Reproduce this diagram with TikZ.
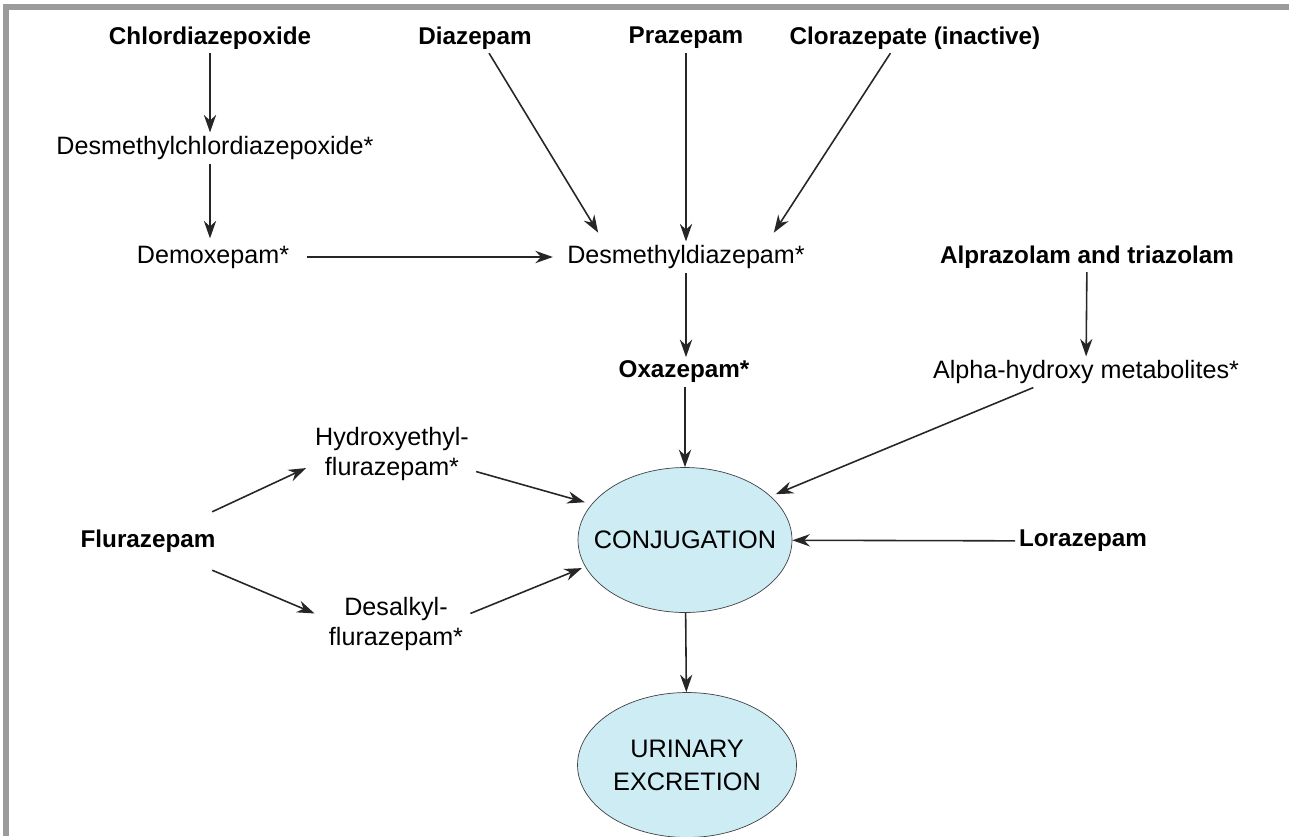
\documentclass[tikz,border=0pt]{standalone}
\usepackage{fontspec}
\setmainfont{Liberation Sans}
\usetikzlibrary{arrows.meta,positioning,shapes.geometric}
\definecolor{conjblue}{RGB}{206,236,244}
\definecolor{framegray}{RGB}{155,155,155}

\begin{document}
\begin{tikzpicture}[
    x=0.02cm, y=-0.02cm,
    drug/.style={
        font=\fontsize{13.8}{16}\selectfont\bfseries,
        align=center,
        inner sep=2pt
    },
    metab/.style={
        font=\fontsize{14.3}{17.5}\selectfont,
        align=center,
        inner sep=2pt
    },
    stage/.style={
        ellipse,
        draw=black!75,
        fill=conjblue,
        minimum width=#1,
        minimum height=2.9cm,
        inner sep=0pt
    },
    inside/.style={
        align=center,
        font=\fontsize{14.4}{18.8}\selectfont
    },
    arrow/.style={
        -{Stealth[length=10pt,width=7pt]},
        line width=0.9pt,
        draw=black!85
    }
]

\useasboundingbox (0,0) rectangle (1289,836);

% Frame
\draw[framegray, line width=3pt] (6,836) -- (6,7) -- (1289,7);

% Parent drugs
\node[drug] (chlor) at (210,38) {Chlordiazepoxide};
\node[drug] (diaz) at (475,38) {Diazepam};
\node[drug] (praz) at (686,38) {Prazepam};
\node[drug] (cloraz) at (915,38) {Clorazepate (inactive)};
\node[drug] (alpra) at (1087,257) {Alprazolam and triazolam};
\node[drug] (flur) at (148,541) {Flurazepam};
\node[drug] (loraz) at (1083,541) {Lorazepam};

% Metabolites
\node[metab] (dmchlor) at (215,148) {Desmethylchlordiazepoxide*};
\node[metab] (demox) at (213,257) {Demoxepam*};
\node[metab] (dmdiaz) at (686,257) {Desmethyldiazepam*};
\node[drug] (oxaz) at (684,372) {Oxazepam*};
\node[metab] (alpha) at (1086,372) {Alpha-hydroxy metabolites*};
\node[metab] (hydroxy) at (392,454) {Hydroxyethyl-\\flurazepam*};
\node[metab] (desalk) at (396,624) {Desalkyl-\\flurazepam*};

% Ellipses
\node[stage=4.28cm, label={[inside]center:CONJUGATION}] (conj) at (685,540) {};
\node[stage=4.38cm, label={[inside]center:URINARY\\EXCRETION}] (urine) at (687,765) {};

% Connectors
\draw[arrow] (chlor) -- (dmchlor.north -| chlor);
\draw[arrow] (dmchlor.south -| chlor) -- ([yshift=2pt]demox.north -| chlor);
\draw[arrow] ([xshift=8pt]demox.east) -- ([xshift=-6pt]dmdiaz.west);
\draw[arrow] ([xshift=8pt]diaz.south) -- ([xshift=-50pt,yshift=5pt]dmdiaz.north);
\draw[arrow] (praz) -- (dmdiaz);
\draw[arrow] ([xshift=-14pt]cloraz.south) -- ([xshift=50pt,yshift=5pt]dmdiaz.north);
\draw[arrow] (dmdiaz) -- (dmdiaz |- oxaz.north);
\draw[arrow] (alpra) -- (alpha);
\draw[arrow] (oxaz.south -| conj) -- (conj);
\draw[arrow, shorten >=3pt] ([xshift=-30pt]alpha.south) -- (conj.27);
\draw[arrow] (loraz) -- (conj);
\draw[arrow] ([xshift=-4pt,yshift=8pt]flur.north east) -- ([xshift=-3pt,yshift=-8pt]hydroxy.west);
\draw[arrow] ([xshift=-4pt,yshift=-8pt]flur.south east) -- ([xshift=-6pt,yshift=6pt]desalk.west);
\draw[arrow, shorten >=4pt] ([xshift=2pt,yshift=-10pt]hydroxy.east) -- (conj.159);
\draw[arrow, shorten >=2pt] ([xshift=2pt,yshift=6pt]desalk.east) -- (conj.195);
\draw[arrow] (conj) -- (urine);

\end{tikzpicture}
\end{document}
